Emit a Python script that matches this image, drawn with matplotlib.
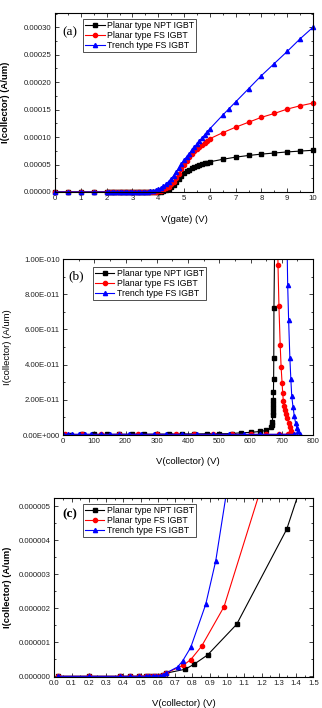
import matplotlib
matplotlib.use("Agg")
import matplotlib.pyplot as plt
from matplotlib.ticker import MultipleLocator, FuncFormatter
import numpy as np

plt.rcParams['font.family'] = ['Liberation Sans', 'DejaVu Sans']

series_names = ["Planar type NPT IGBT", "Planar type FS IGBT", "Trench type FS IGBT"]
colors = ["#000000", "#ff0000", "#0000ff"]
markers = ["s", "o", "^"]

# ---------------- panel (a): transfer characteristics ----------------
vg = [0, 0.5, 1.0, 1.5, 2.0, 2.1, 2.2, 2.3, 2.4, 2.5, 2.6, 2.7, 2.8, 2.9, 3.0, 3.1, 3.2, 3.3, 3.4,
      3.5, 3.6, 3.7, 3.8, 3.9, 4.0, 4.1, 4.2, 4.3, 4.4, 4.5, 4.6, 4.7, 4.8, 4.9, 5.0, 5.1, 5.2,
      5.3, 5.4, 5.5, 5.6, 5.7, 5.8, 5.9, 6.0, 6.5, 7.0, 7.5, 8.0, 8.5, 9.0, 9.5, 10.0]
vg_trench = [0, 0.5, 1.0, 1.5, 2.0, 2.1, 2.2, 2.3, 2.4, 2.5, 2.6, 2.7, 2.8, 2.9, 3.0, 3.1, 3.2, 3.3, 3.4,
             3.5, 3.6, 3.7, 3.8, 3.9, 4.0, 4.1, 4.2, 4.3, 4.4, 4.5, 4.6, 4.7, 4.8, 4.9, 5.0, 5.1, 5.2,
             5.3, 5.4, 5.5, 5.6, 5.7, 5.8, 5.9, 6.0, 6.5, 6.75, 7.0, 7.5, 8.0, 8.5, 9.0, 9.5, 10.0]
# values in units of 1e-4 A/um
ic_a_npt = [0, 0, 0, 0, 0, 0, 0, 0, 0, 0, 0, 0, 0, 0, 0, 0, 0, 0, 0,
            0, 0, 0, 0, 0, 0.002, 0.008, 0.018, 0.035, 0.06, 0.09, 0.13, 0.18, 0.23, 0.29, 0.34,
            0.375, 0.405, 0.43, 0.45, 0.47, 0.49, 0.505, 0.52, 0.535, 0.55,
            0.595, 0.635, 0.665, 0.69, 0.71, 0.73, 0.745, 0.76]
ic_a_fs = [0, 0, 0, 0, 0, 0, 0, 0, 0, 0, 0, 0, 0, 0, 0, 0, 0, 0, 0,
           0, 0, 0.002, 0.004, 0.007, 0.012, 0.025, 0.045, 0.07, 0.10, 0.14, 0.19, 0.25, 0.32, 0.41,
           0.50, 0.57, 0.63, 0.69, 0.74, 0.78, 0.82, 0.86, 0.90, 0.935, 0.97,
           1.08, 1.18, 1.27, 1.36, 1.43, 1.51, 1.57, 1.62]
ic_a_trench = [0, 0, 0, 0, 0, 0, 0, 0, 0, 0, 0, 0, 0, 0, 0, 0, 0, 0, 0,
               0.002, 0.005, 0.01, 0.02, 0.03, 0.05, 0.075, 0.105, 0.14, 0.19, 0.24, 0.30, 0.37,
               0.44, 0.51, 0.58, 0.64, 0.70, 0.76, 0.815, 0.87, 0.93, 0.985, 1.04, 1.095, 1.15,
               1.40, 1.52, 1.64, 1.88, 2.12, 2.34, 2.56, 2.79, 3.00]

# ---------------- panel (b): blocking characteristics ----------------
vc_b_npt = [0, 25, 60, 100, 140, 180, 220, 260, 300, 340, 380, 420, 460, 500, 540, 571, 603, 629, 651,
            667, 669, 670, 671, 671.5, 672, 672.5, 673, 673.5, 674, 674.5, 675, 678]
ic_b_npt = [0.002, 0.002, 0.003, 0.003, 0.003, 0.004, 0.004, 0.004, 0.005, 0.005, 0.006, 0.006,
            0.007, 0.007, 0.008, 0.013, 0.015, 0.02, 0.026,
            0.044, 0.057, 0.076, 0.114, 0.132, 0.152, 0.176, 0.199, 0.246, 0.316, 0.436, 0.72, 1.2]
vc_b_fs = [5, 60, 120, 180, 240, 300, 360, 420, 480, 540, 600, 650, 690, 720,
           735, 731, 727, 722, 718, 714, 711, 708, 705, 703, 701, 698, 695, 691, 688, 686]
ic_b_fs = [0.003, 0.003, 0.003, 0.003, 0.003, 0.003, 0.003, 0.003, 0.003, 0.003, 0.003, 0.003,
           0.003, 0.004,
           0.008, 0.025, 0.045, 0.07, 0.095, 0.119, 0.142, 0.165, 0.195, 0.24, 0.297, 0.385,
           0.511, 0.733, 0.966, 1.2]
vc_b_trench = [0, 15, 30, 50, 70, 90, 120, 150, 180, 210, 250, 290, 330, 380, 430, 480, 530, 580,
               630, 690, 740, 757, 752, 748, 744, 740, 736, 732, 729, 726, 722, 719, 716]
ic_b_trench = [0.004, 0.004, 0.004, 0.004, 0.004, 0.004, 0.004, 0.004, 0.004, 0.004, 0.004, 0.004,
               0.004, 0.004, 0.004, 0.004, 0.004, 0.004, 0.004, 0.004, 0.004,
               0.005, 0.02, 0.04, 0.07, 0.11, 0.16, 0.22, 0.32, 0.436, 0.653, 0.85, 1.2]

# ---------------- panel (c): on-state characteristics ----------------
vc_low = [0.02, 0.2, 0.38, 0.44, 0.49, 0.53, 0.55, 0.57, 0.59, 0.61, 0.63, 0.645]
ic_low = [0, 0, 0, 0, 0.001, 0.002, 0.004, 0.007, 0.012, 0.02, 0.04, 0.09]
vc_c_npt = vc_low + [0.757, 0.809, 0.888, 1.056, 1.346, 1.5]
ic_c_npt = ic_low + [0.207, 0.354, 0.63, 1.53, 4.33, 6.7]
vc_c_fs = vc_low + [0.747, 0.79, 0.853, 0.983, 1.25]
ic_c_fs = ic_low + [0.325, 0.49, 0.886, 2.05, 6.4]
vc_c_trench = vc_low + [0.714, 0.743, 0.79, 0.877, 0.935, 1.0]
ic_c_trench = ic_low + [0.276, 0.45, 0.85, 2.12, 3.40, 5.5]

fig = plt.figure(figsize=(3.22, 7.08), dpi=100)
ax_a = fig.add_axes([55/322, 1-192/708, 258/322, 179/708])
ax_b = fig.add_axes([63/322, 1-435/708, 250/322, 176/708])
ax_c = fig.add_axes([54.3/322, 1-677/708, 259/322, 179/708])

tick_fs = 5.6
lab_fs = 6.8
leg_fs = 6.3

def style(ax):
    for s in ax.spines.values():
        s.set_linewidth(0.8)
    ax.tick_params(which='both', direction='in', top=True, right=True,
                   labelsize=tick_fs, colors='#222222', width=0.6)
    ax.tick_params(which='major', length=3, pad=2.5)
    ax.tick_params(which='minor', length=1.6)

def plot_series(ax, xs, ys, scale, clip=True):
    for x, y, c, m, n in zip(xs, ys, colors, markers, series_names):
        ax.plot(x, np.array(y) * scale, color=c, marker=m, markersize=3.0, linewidth=0.8,
                label=n, clip_on=clip)

def legend(ax, anchor):
    lg = ax.legend(loc='upper left', bbox_to_anchor=anchor, borderaxespad=0, fontsize=leg_fs,
                   frameon=True, fancybox=False, edgecolor='#333333', framealpha=1,
                   handlelength=2.2, handletextpad=0.3, labelspacing=0.1, borderpad=0.25)
    lg.get_frame().set_linewidth(0.6)

# (a)
plot_series(ax_a, [vg, vg, vg_trench], [ic_a_npt, ic_a_fs, ic_a_trench], 1e-4, clip=False)
ax_a.set_xlim(0, 10)
ax_a.set_ylim(0, 0.000326)
ax_a.xaxis.set_major_locator(MultipleLocator(1))
ax_a.xaxis.set_minor_locator(MultipleLocator(0.5))
ax_a.yaxis.set_major_locator(MultipleLocator(0.00005))
ax_a.yaxis.set_minor_locator(MultipleLocator(0.000025))
ax_a.yaxis.set_major_formatter(FuncFormatter(lambda v, p: "%.5f" % v))
ax_a.set_xlabel("V(gate) (V)", fontsize=lab_fs)
ax_a.set_ylabel("I(collector) (A/um)", fontsize=lab_fs, fontweight='bold')
ax_a.xaxis.set_label_coords(0.5, -0.128)
ax_a.yaxis.set_label_coords(-0.174, 0.5)
style(ax_a)
legend(ax_a, (0.109, 0.966))
ax_a.text(0.027, 0.89, "(a)", transform=ax_a.transAxes, fontsize=9.5,
          family='Liberation Serif', va='center', ha='left')

# (b)
plot_series(ax_b, [vc_b_npt, vc_b_fs, vc_b_trench], [ic_b_npt, ic_b_fs, ic_b_trench], 1e-10)
ax_b.set_xlim(0, 800)
ax_b.set_ylim(0, 1e-10)
ax_b.xaxis.set_major_locator(MultipleLocator(100))
ax_b.xaxis.set_minor_locator(MultipleLocator(50))
ax_b.yaxis.set_major_locator(MultipleLocator(2e-11))
ax_b.yaxis.set_minor_locator(MultipleLocator(1e-11))

def sci_fmt(v, p):
    if abs(v) < 1e-20:
        return "0.00E+000"
    e = int(np.floor(np.log10(abs(v)) + 1e-9))
    m = v / 10**e
    return "%.2fE%s%03d" % (m, '-' if e < 0 else '+', abs(e))

ax_b.yaxis.set_major_formatter(FuncFormatter(sci_fmt))
ax_b.set_xlabel("V(collector) (V)", fontsize=lab_fs)
ax_b.set_ylabel("I(collector) (A/um)", fontsize=lab_fs)
ax_b.xaxis.set_label_coords(0.5, -0.125)
ax_b.yaxis.set_label_coords(-0.204, 0.5)
style(ax_b)
legend(ax_b, (0.12, 0.955))
ax_b.text(0.02, 0.90, "(b)", transform=ax_b.transAxes, fontsize=9.5,
          family='Liberation Serif', va='center', ha='left')

# (c)
plot_series(ax_c, [vc_c_npt, vc_c_fs, vc_c_trench], [ic_c_npt, ic_c_fs, ic_c_trench], 1e-6)
ax_c.set_xlim(0, 1.5)
ax_c.set_ylim(-0.02e-6, 5.25e-6)
ax_c.xaxis.set_major_locator(MultipleLocator(0.1))
ax_c.xaxis.set_minor_locator(MultipleLocator(0.05))
ax_c.yaxis.set_major_locator(MultipleLocator(1e-6))
ax_c.yaxis.set_minor_locator(MultipleLocator(0.5e-6))
ax_c.yaxis.set_major_formatter(FuncFormatter(lambda v, p: "%.6f" % abs(v)))
ax_c.xaxis.set_major_formatter(FuncFormatter(lambda v, p: "%.1f" % v))
ax_c.set_xlabel("V(collector) (V)", fontsize=lab_fs)
ax_c.set_ylabel("I(collector) (A/um)", fontsize=lab_fs, fontweight='bold')
ax_c.xaxis.set_label_coords(0.5, -0.123)
ax_c.yaxis.set_label_coords(-0.163, 0.5)
style(ax_c)
legend(ax_c, (0.111, 0.966))
ax_c.text(0.03, 0.91, "(c)", transform=ax_c.transAxes, fontsize=9.5, fontweight='bold',
          family='Liberation Serif', va='center', ha='left')

fig.savefig("out.png", dpi=100)
